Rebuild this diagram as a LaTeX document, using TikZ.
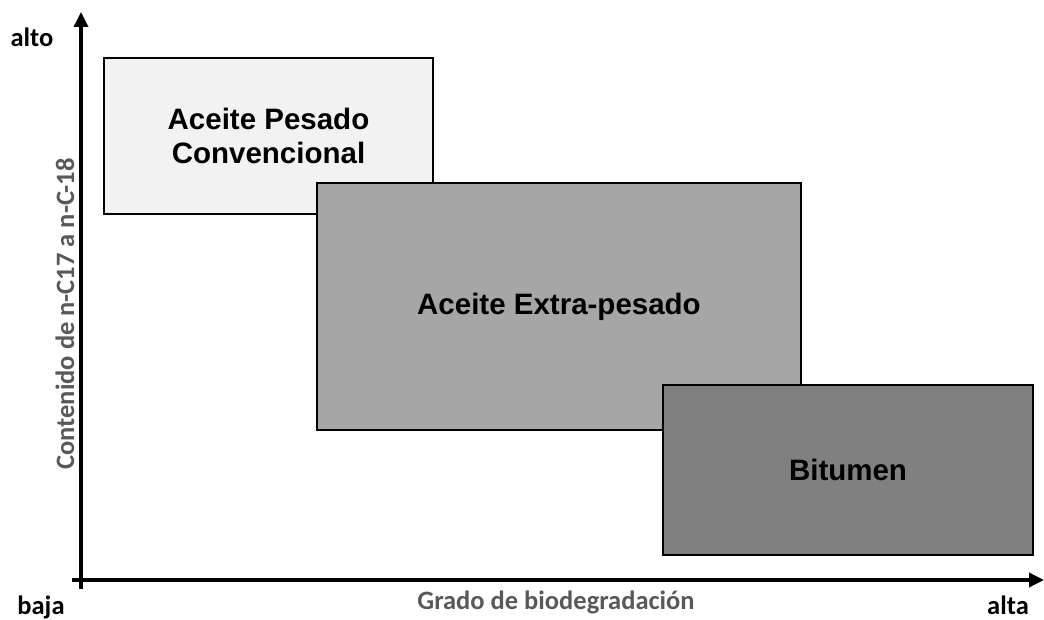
\documentclass[tikz,border=0pt]{standalone}
\usepackage{fontspec}
\setmainfont{Liberation Sans}
\newfontfamily\calib{Carlito}
\usetikzlibrary{arrows.meta}
\definecolor{boxA}{HTML}{F2F2F2}
\definecolor{boxB}{HTML}{A6A6A6}
\definecolor{boxC}{HTML}{808080}
\definecolor{axlab}{HTML}{595959}
\begin{document}
\begin{tikzpicture}[x=1pt,y=1pt,
  region/.style={draw=black, line width=2pt, inner sep=0pt, outer sep=0pt, align=center,
    font=\fontsize{29.5}{34}\selectfont\bfseries},
  axis/.style={line width=3.4pt, -{Triangle[length=15pt,width=14pt]}},
  endlab/.style={font=\calib\fontsize{26.5}{30}\selectfont\bfseries, text=black, inner sep=0pt, anchor=base},
  axlabel/.style={font=\calib\fontsize{26.5}{30}\selectfont\bfseries, text=axlab, inner sep=0pt, anchor=base}]
\useasboundingbox (0,0) rectangle (1044,620);
\coordinate (ybot) at (81,31);
\coordinate (ytop) at (81,608);
\coordinate (xleft) at (72,40);
\coordinate (xright) at (1044,40);
\draw[axis] (ybot) -- (ytop);
\draw[axis] (xleft) -- (xright);
\node[region, fill=boxA, minimum width=329pt, minimum height=156pt] (conv) at (268.5,484) {Aceite Pesado\\Convencional};
\node[region, fill=boxB, minimum width=484pt, minimum height=247pt] (extra) at (559,313.5) {Aceite Extra-pesado};
\node[region, fill=boxC, minimum width=370pt, minimum height=170pt] (bit) at (848,150) {Bitumen};
\node[endlab] (alto) at (32,573) {alto};
\node[endlab] (baja) at (41,5) {baja};
\node[endlab] (alta) at (1008,5) {alta};
\node[axlabel] (xlab) at (556,10) {Grado de biodegradación};
\node[axlabel, rotate=90] (ylab) at (74,306) {Contenido de n-C17 a n-C-18};
\end{tikzpicture}
\end{document}
